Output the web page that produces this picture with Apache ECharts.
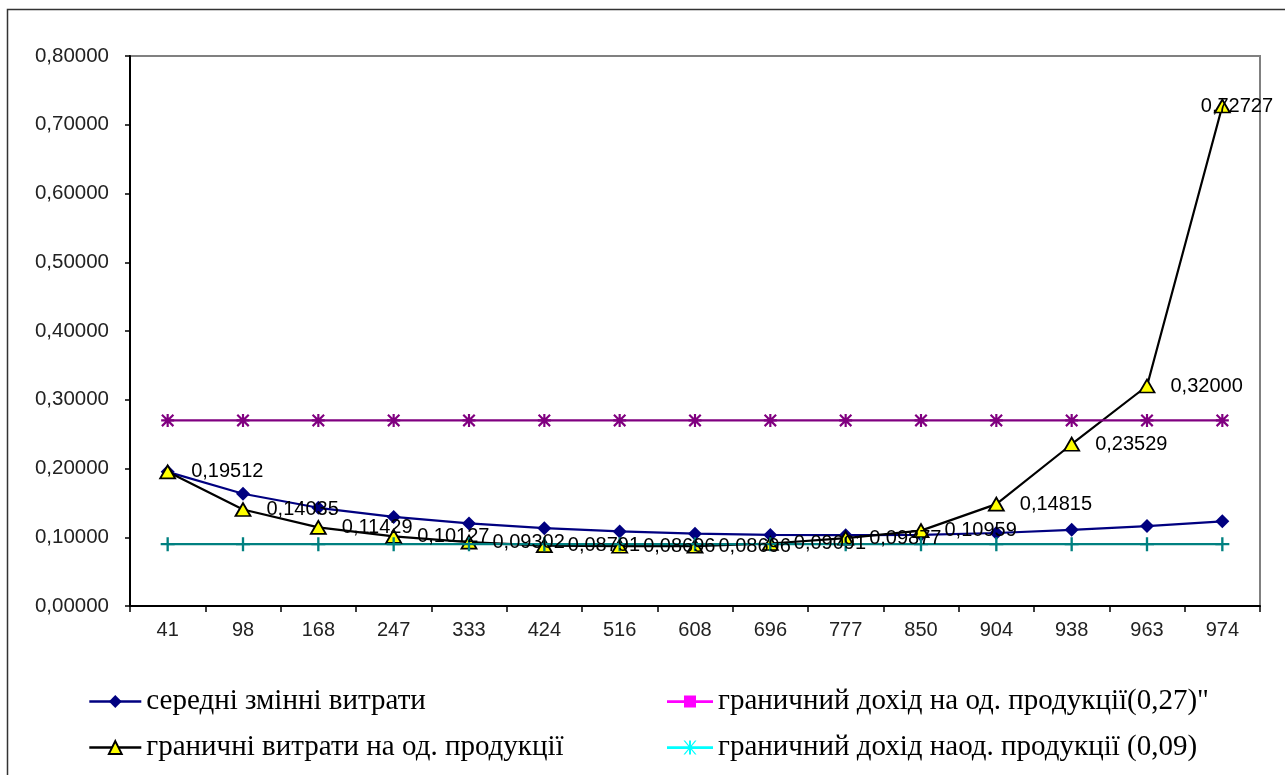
<!DOCTYPE html>
<html>
<head>
<meta charset="utf-8">
<script src="https://cdn.jsdelivr.net/npm/echarts@6/dist/echarts.min.js"></script>
<style>
html,body{margin:0;padding:0;background:#fff;}
#chart{width:1285px;height:775px;}
</style>
</head>
<body>
<div id="chart"></div>
<script>
const categories = ['41','98','168','247','333','424','516','608','696','777','850','904','938','963','974'];
const avgVarCost = [0.19512,0.16327,0.14286,0.12955,0.12012,0.11321,0.10853,0.10526,0.10345,0.10296,0.10353,0.10619,0.11087,0.11630,0.12320];
const marginalCost = [0.19512,0.14035,0.11429,0.10127,0.09302,0.08791,0.08696,0.08696,0.09091,0.09877,0.10959,0.14815,0.23529,0.32000,0.72727];
const revenue027 = [0.27,0.27,0.27,0.27,0.27,0.27,0.27,0.27,0.27,0.27,0.27,0.27,0.27,0.27,0.27];
const revenue009 = [0.09,0.09,0.09,0.09,0.09,0.09,0.09,0.09,0.09,0.09,0.09,0.09,0.09,0.09,0.09];
const yTicks = {min:0, max:0.8, interval:0.1};
const names = ['середні змінні витрати','граничні витрати на од. продукції','граничний дохід на од. продукції(0,27)"','граничний дохід наод. продукції (0,09)'];

const fmt = v => v.toFixed(5).replace('.', ',');
const sans = '"Liberation Sans", Arial, sans-serif';
const serif = '"Liberation Serif", "Times New Roman", serif';

const asterisk = 'path://M5,0 L7,0 L7,12 L5,12 Z M0,5 L12,5 L12,7 L0,7 Z M0,1.4 L1.4,0 L12,10.6 L10.6,12 Z M10.6,0 L12,1.4 L1.4,12 L0,10.6 Z';
const plus = 'path://M5,0 L7,0 L7,12 L5,12 Z M0,5 L12,5 L12,7 L0,7 Z';
const legSquare = 'path://M0,5.8 L46,5.8 L46,8.6 L0,8.6 Z M17,1 L29,1 L29,13 L17,13 Z';
const legStar = 'path://M0,5.8 L46,5.8 L46,8.4 L0,8.4 Z M22,0 L24,0 L24,14 L22,14 Z M16.5,0 L18,0 L29.5,14 L28,14 Z M28,0 L29.5,0 L18,14 L16.5,14 Z';

const mcData = marginalCost.map((v, i) => i === marginalCost.length - 1
  ? {value: v, label: {offset: [-45, 0]}}
  : v);

const chart = echarts.init(document.getElementById('chart'));
chart.setOption({
  animation: false,
  backgroundColor: '#fff',
  graphic: [{
    type: 'rect', z: -1,
    shape: {x: 7.5, y: 9.5, width: 1300, height: 800},
    style: {fill: 'none', stroke: '#333', lineWidth: 1.5}
  }],
  grid: {left: 130, top: 56, right: 25, bottom: 169, show: true, borderColor: '#808080', borderWidth: 2, backgroundColor: 'transparent'},
  legend: [{
    orient: 'vertical', left: 83, top: 682, itemWidth: 52, itemHeight: 16, itemGap: 17,
    textStyle: {fontFamily: serif, fontSize: 29, color: '#000'},
    data: [
      {name: names[0], lineStyle: {width: 2.6}},
      {name: names[1], lineStyle: {width: 2.6}}
    ]
  }, {
    orient: 'vertical', left: 662, top: 682, itemWidth: 46, itemHeight: 14, itemGap: 17,
    textStyle: {fontFamily: serif, fontSize: 29, color: '#000'},
    data: [
      {name: names[2], icon: legSquare, itemStyle: {color: '#ff00ff', borderWidth: 0}},
      {name: names[3], icon: legStar, itemStyle: {color: '#00ffff', borderWidth: 0}}
    ]
  }],
  xAxis: {
    type: 'category', data: categories, boundaryGap: true,
    axisLine: {lineStyle: {color: '#000', width: 2}},
    axisTick: {show: true, length: 6, lineStyle: {color: '#000', width: 1.5}},
    axisLabel: {fontFamily: sans, fontSize: 20, color: '#222', margin: 14},
    splitLine: {show: false}
  },
  yAxis: {
    type: 'value', min: yTicks.min, max: yTicks.max, interval: yTicks.interval,
    axisLine: {show: true, lineStyle: {color: '#000', width: 2}},
    axisTick: {show: true, length: 5, lineStyle: {color: '#000', width: 1.5}},
    axisLabel: {fontFamily: sans, fontSize: 20.5, color: '#222', margin: 21, formatter: fmt},
    splitLine: {show: false}
  },
  series: [{
    name: names[0], type: 'line', data: avgVarCost,
    symbol: 'diamond', symbolSize: 14,
    lineStyle: {color: '#000080', width: 2.2},
    itemStyle: {color: '#000080'}
  }, {
    name: names[1], type: 'line', data: mcData,
    symbol: 'triangle', symbolSize: [15, 13],
    lineStyle: {color: '#000', width: 2.2},
    itemStyle: {color: '#ffff00', borderColor: '#000', borderWidth: 1.8},
    label: {show: true, position: 'right', distance: 15, fontFamily: sans, fontSize: 20, color: '#000',
      formatter: p => fmt(p.value)},
    z: 3
  }, {
    name: names[2], type: 'line', data: revenue027,
    symbol: asterisk, symbolSize: 13,
    lineStyle: {color: '#800080', width: 2.2},
    itemStyle: {color: '#800080'}
  }, {
    name: names[3], type: 'line', data: revenue009,
    symbol: plus, symbolSize: 14,
    lineStyle: {color: '#008080', width: 2.2},
    itemStyle: {color: '#008080'}
  }]
});
</script>
</body>
</html>
